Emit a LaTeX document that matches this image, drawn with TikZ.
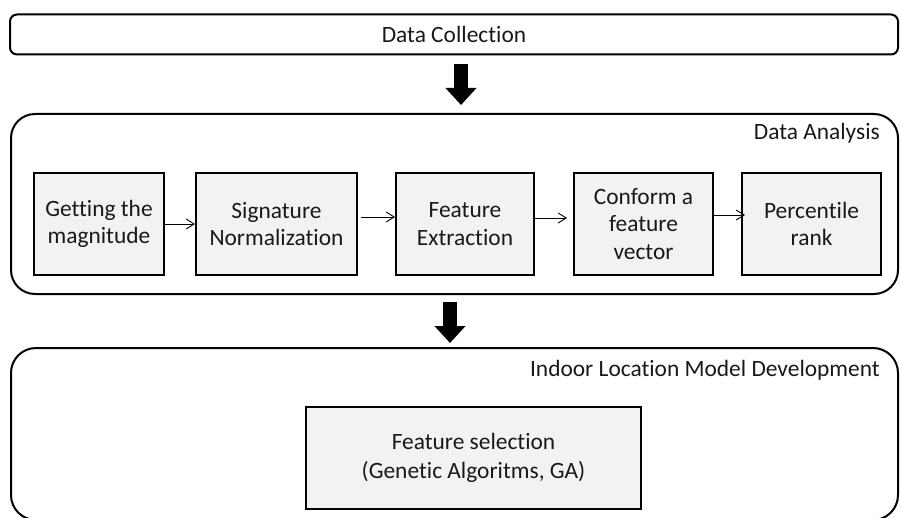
\documentclass[tikz,border=0pt]{standalone}
\usepackage{fontspec}
\setmainfont[Ligatures=NoCommon]{Carlito}
\usetikzlibrary{arrows.meta,calc}

\begin{document}
\begin{tikzpicture}[x=1pt,y=-1pt,
  every node/.style={font=\fontsize{23.4}{27.5}\selectfont, text=black!90},
  panel/.style={draw=black, line width=2pt, inner sep=0pt},
  stepbox/.style={draw=black, line width=2pt, fill=black!5, inner sep=0pt,
                  align=center, minimum height=102pt},
  caption/.style={anchor=east, inner sep=0pt},
  flow/.style={draw=black, line width=0.9pt, -{Straight Barb[length=8pt,width=10pt]}},
  bigarrow/.style={draw=black, line width=14pt, -{Triangle[length=17pt,width=30pt]}}
]
\useasboundingbox (0,0) rectangle (901,518);
\clip (0,0) rectangle (901,518);

% stage containers
\node[panel, rounded corners=7pt, minimum width=888pt, minimum height=40pt]
  (dc) at (454,34.5) {Data Collection};
\node[panel, rounded corners=24pt, minimum width=887pt, minimum height=180pt]
  (da) at (454.5,204) {};
\node[panel, rounded corners=25pt, minimum width=887pt, minimum height=172pt]
  (ilm) at (454.5,434) {};

% stage titles
\node[caption] (daT) at (880,133) {Data Analysis};
\node[caption] (ilmT) at (880,370) {Indoor Location Model Development};

% data analysis steps
\node[stepbox, minimum width=130pt] (s1) at (99,224)    {Getting the\\magnitude};
\node[stepbox, minimum width=161pt] (s2) at (276.5,224) {Signature\\Normalization};
\node[stepbox, minimum width=138pt] (s3) at (465,224)   {Feature\\Extraction};
\node[stepbox, minimum width=139pt] (s4) at (643.5,224) {Conform a\\feature\\vector};
\node[stepbox, minimum width=139pt] (s5) at (811.5,224) {Percentile\\rank};

% model development step
\node[stepbox, minimum width=335pt,
      font=\fontsize{23.4}{29.5}\selectfont] (fs) at (473.5,458)
  {Feature selection\\(Genetic Algoritms, GA)};

% step connectors
\draw[flow] (s1.east) -- (s2.west);
\draw[flow, shorten <=3pt] ([yshift=7pt]s2.east) -- ([yshift=7pt]s3.west);
\draw[flow, shorten >=6pt] ([yshift=6pt]s3.east) -- ([yshift=6pt]s4.west);
\draw[flow, shorten >=-4pt] ([yshift=9pt]s4.east) -- ([yshift=9pt]s5.west);

% stage transitions
\draw[bigarrow] ($(dc.south)+(7,9)$) -- ($(da.north)+(6.5,-8)$);
\draw[bigarrow] ($(da.south)+(-4.5,7)$) -- ($(ilm.north)+(-4.5,-4)$);
\end{tikzpicture}
\end{document}
